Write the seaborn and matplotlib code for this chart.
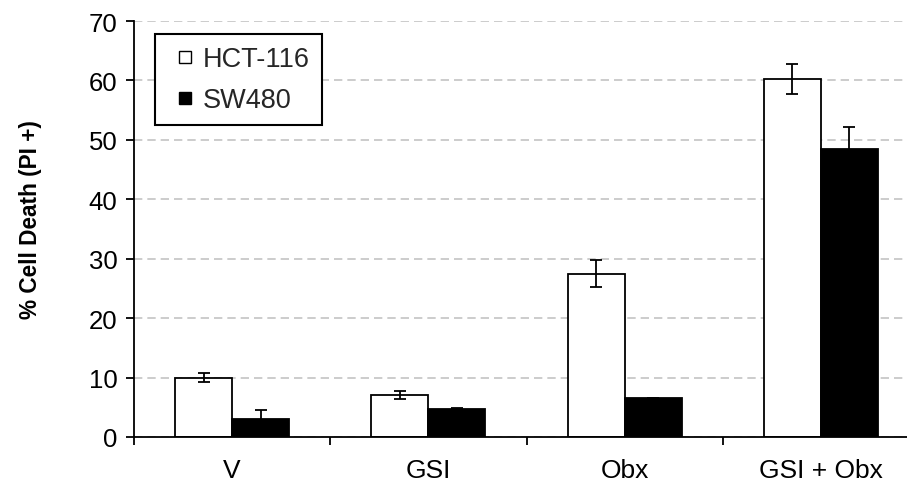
import matplotlib
matplotlib.use("Agg")
import matplotlib.pyplot as plt
from matplotlib.lines import Line2D
from matplotlib.ticker import FixedLocator, MultipleLocator
import numpy as np
import pandas as pd
import seaborn as sns

# Treatment groups and cell lines
treatments = ["V", "GSI", "Obx", "GSI + Obx"]
cell_lines = ["HCT-116", "SW480"]

# Mean % cell death (PI+) and error per cell line
hct116_mean = [10.0, 7.1, 27.5, 60.2]
hct116_err = [0.7, 0.7, 2.2, 2.5]
sw480_mean = [3.0, 4.7, 6.5, 48.5]
sw480_err = [1.6, 0.2, 0.1, 3.6]

df = pd.DataFrame({
    "Treatment": treatments * 2,
    "Line": [cell_lines[0]] * 4 + [cell_lines[1]] * 4,
    "Death": hct116_mean + sw480_mean,
})
errors = {cell_lines[0]: hct116_err, cell_lines[1]: sw480_err}

sns.set_theme(style="white")
plt.rcParams["font.family"] = ["Liberation Sans", "DejaVu Sans"]

W, H = 907, 485
fig = plt.figure(figsize=(W / 100, H / 100), dpi=100)
ax = fig.add_axes([134 / W, (H - 438) / H, (919 - 134) / W, (438 - 22) / H])

sns.barplot(data=df, x="Treatment", y="Death", hue="Line", order=treatments,
            hue_order=cell_lines, palette=["white", "black"], edgecolor="black",
            linewidth=1.3, width=0.58, gap=0, errorbar=None, ax=ax, zorder=2)

# Error bars placed at the centre of each drawn bar
for container, line in zip(ax.containers, cell_lines):
    xs = [p.get_x() + p.get_width() / 2 for p in container.patches]
    ys = [p.get_height() for p in container.patches]
    ax.errorbar(xs, ys, yerr=errors[line], fmt="none", ecolor="black",
                elinewidth=1.3, capsize=4.3, capthick=1.3, zorder=3)

ax.set_xlim(-0.5, 3.5)
ax.set_ylim(0, 70)
ax.yaxis.set_major_locator(MultipleLocator(10))
ax.grid(axis="y", color="#c4c4c4", linestyle=(0, (5, 3)), linewidth=1.2, zorder=0)
ax.set_axisbelow(True)

for s in ["top", "right"]:
    ax.spines[s].set_visible(False)
for s in ["left", "bottom"]:
    ax.spines[s].set_color("black")
    ax.spines[s].set_linewidth(1.3)

ax.xaxis.set_minor_locator(FixedLocator([-0.5, 0.5, 1.5, 2.5, 3.5]))
ax.tick_params(axis="x", which="major", length=0, pad=15, labelsize=19, colors="black")
ax.tick_params(axis="x", which="minor", length=6, width=1.3, direction="out",
               bottom=True, color="black")
ax.tick_params(axis="y", which="major", length=6, width=1.3, direction="out",
               left=True, pad=6, labelsize=18.5, colors="black")

ax.set_xlabel("")
ax.set_ylabel("% Cell Death (PI +)", fontsize=16.3, fontweight="bold", color="black")
ax.yaxis.set_label_coords((42 - 134) / (919 - 134), 0.526)

handles = [
    Line2D([], [], linestyle="none", marker="s", markersize=8,
           markerfacecolor="white", markeredgecolor="black", markeredgewidth=1.0),
    Line2D([], [], linestyle="none", marker="s", markersize=8,
           markerfacecolor="black", markeredgecolor="black", markeredgewidth=1.0),
]
leg = ax.legend(handles, cell_lines, loc="upper left",
                bbox_to_anchor=(155 / W, 1 - 35 / H), bbox_transform=fig.transFigure,
                frameon=True, fancybox=False, framealpha=1, edgecolor="black",
                fontsize=19.5, handlelength=1.3, handletextpad=0.0,
                labelspacing=0.55, borderpad=0.45, borderaxespad=0)
leg.get_frame().set_linewidth(1.5)
leg.set_zorder(5)

fig.savefig("out.png", dpi=100)
